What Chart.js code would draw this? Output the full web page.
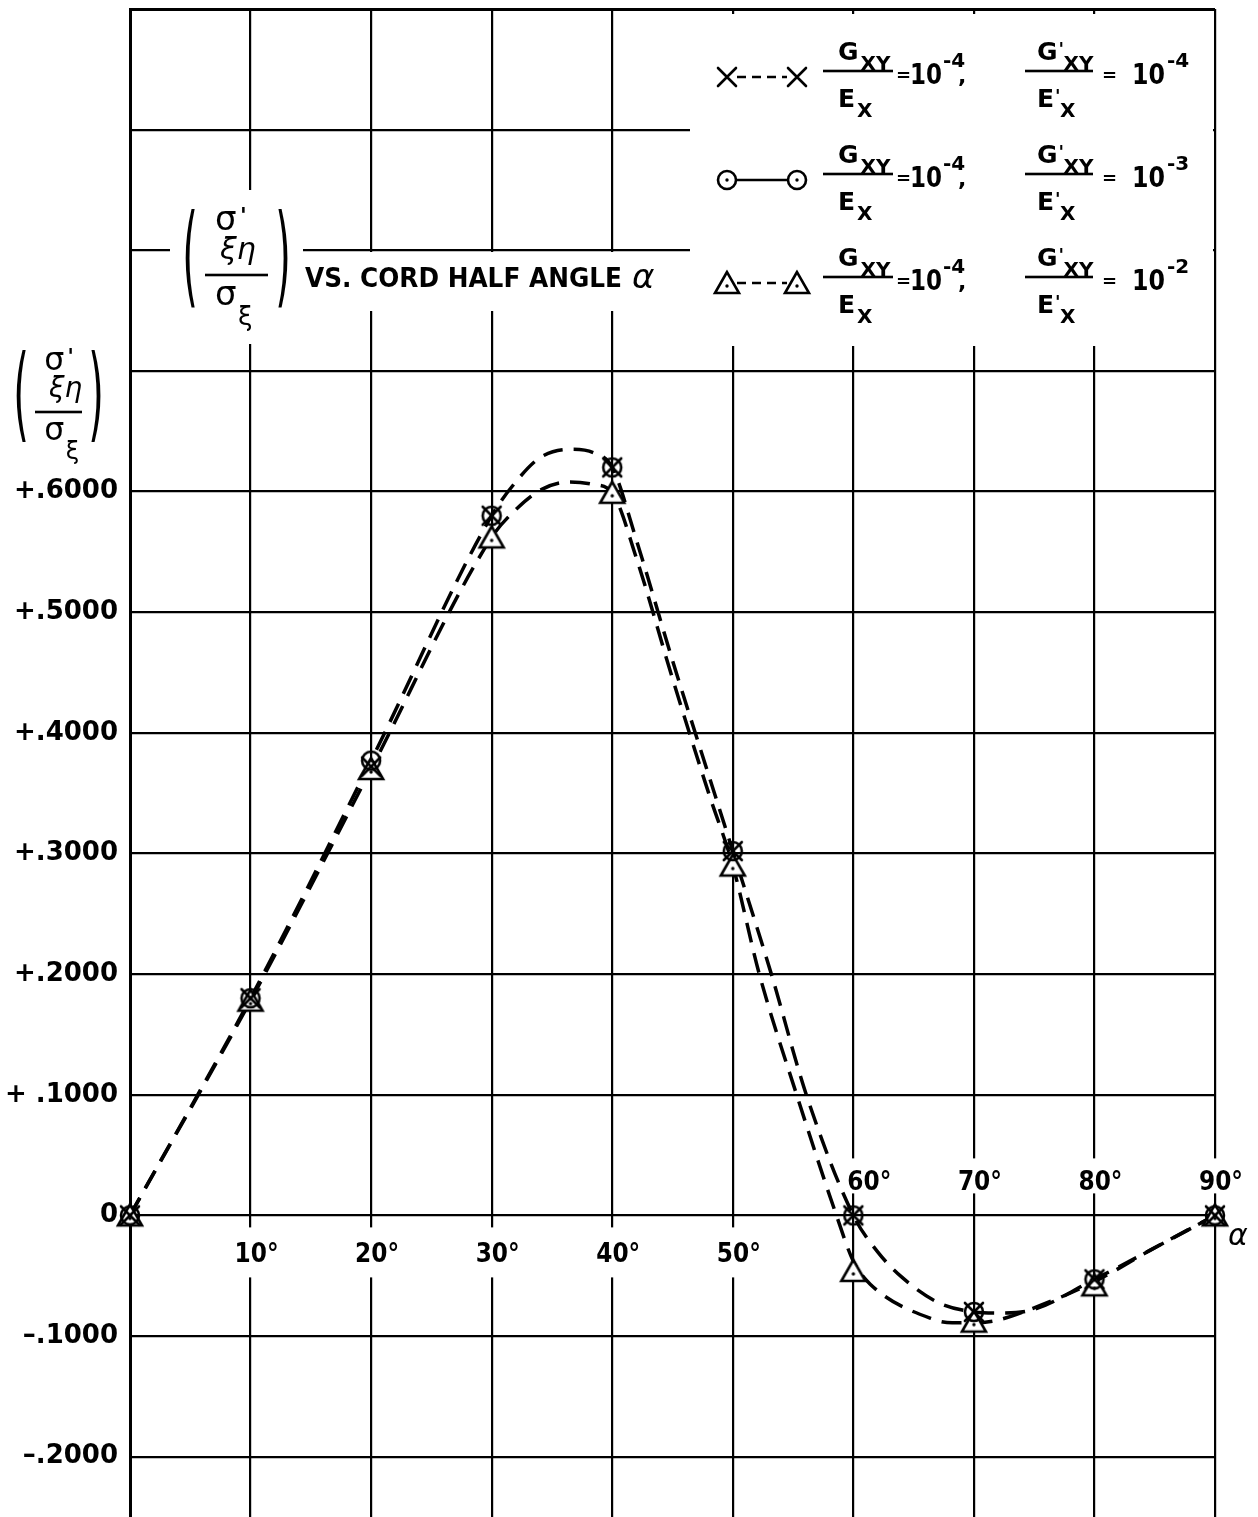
<!DOCTYPE html>
<html>
<head>
<meta charset="utf-8">
<script src="https://cdn.jsdelivr.net/npm/chart.js@4.4.1/dist/chart.umd.min.js"></script>
<style>
  html, body { margin: 0; padding: 0; background: #fff; }
  canvas { display: block; }
</style>
</head>
<body>
<canvas id="stressChart" width="1258" height="1517"></canvas>
<script>
// cord half angle (degrees) where the ratio was computed
const angles = [0, 10, 20, 30, 40, 50, 60, 70, 80, 90];
// Gxy/Ex = 1e-4 for all three; G'xy/E'x = 1e-4, 1e-3, 1e-2
const crossVals = [0, 0.180, 0.372, 0.580, 0.620, 0.302, 0, -0.080, -0.053, 0];
const circleVals = [0, 0.180, 0.377, 0.580, 0.620, 0.302, 0, -0.080, -0.053, 0];
const triangleVals = [0, 0.178, 0.370, 0.562, 0.599, 0.290, -0.046, -0.088, -0.058, 0];

// faired curves as drawn through the points
const upperCurveAngles = [0, 10, 20, 30, 32, 34, 36.5, 38.5, 40, 42, 45, 48, 50, 53.2, 56.1, 60, 62, 64, 67, 70, 72.1, 74.6, 80, 84.6, 90];
const upperCurveVals = [0, 0.180, 0.377, 0.580, 0.608, 0.628, 0.635, 0.632, 0.620, 0.560, 0.460, 0.365, 0.302, 0.200, 0.100, 0, -0.030, -0.051, -0.072, -0.080, -0.081, -0.079, -0.053, -0.029, 0];
const lowerCurveAngles = [0, 10, 20, 30, 32, 34.2, 36.5, 38.4, 40, 42, 45, 48, 50, 52.2, 55.3, 58.6, 60, 61.4, 66.6, 68.2, 70, 71.9, 74.9, 80, 84.6, 90];
const lowerCurveVals = [0, 0.178, 0.370, 0.562, 0.585, 0.602, 0.608, 0.606, 0.599, 0.545, 0.445, 0.350, 0.290, 0.200, 0.100, 0, -0.038, -0.057, -0.086, -0.089, -0.089, -0.087, -0.077, -0.055, -0.029, 0];

const xTicks = [0, 10, 20, 30, 40, 50, 60, 70, 80, 90];
const xLabels = ["", "10°", "20°", "30°", "40°", "50°", "60°", "70°", "80°", "90°"];
const yTicks = [-0.2, -0.1, 0, 0.1, 0.2, 0.3, 0.4, 0.5, 0.6, 0.7, 0.8, 0.9, 1.0];
const yLabels = ["–.2000", "–.1000", "0", "+ .1000", "+.2000", "+.3000", "+.4000", "+.5000", "+.6000", "", "", "", ""];

const legendExponents = ["-4", "-3", "-2"];

const FONT = "'DejaVu Sans'";

function setFont(ctx, size, weight, style) {
    ctx.font = `${style || "normal"} ${weight || "bold"} ${size}px ${FONT}`;
}

function write(ctx, s, x, y, size, weight, style, maxW) {
    setFont(ctx, size, weight, style);
    if (maxW) ctx.fillText(s, x, y, maxW);
    else ctx.fillText(s, x, y);
    const w = ctx.measureText(s).width;
    return maxW ? Math.min(w, maxW) : w;
}

// point symbols
function makeCross() {
    const c = document.createElement("canvas");
    c.width = 26; c.height = 26;
    const g = c.getContext("2d");
    g.strokeStyle = "#000"; g.lineWidth = 2.6; g.lineCap = "round";
    g.beginPath();
    g.moveTo(4, 4); g.lineTo(22, 22);
    g.moveTo(22, 4); g.lineTo(4, 22);
    g.stroke();
    return c;
}

function makeCircle() {
    const c = document.createElement("canvas");
    c.width = 26; c.height = 26;
    const g = c.getContext("2d");
    g.strokeStyle = "#000"; g.fillStyle = "#000"; g.lineWidth = 2.6;
    g.beginPath(); g.arc(13, 13, 9, 0, Math.PI * 2); g.stroke();
    g.beginPath(); g.arc(13, 13, 1.7, 0, Math.PI * 2); g.fill();
    return c;
}

function makeTriangle() {
    const c = document.createElement("canvas");
    c.width = 30; c.height = 28;
    const g = c.getContext("2d");
    g.strokeStyle = "#000"; g.fillStyle = "#fff"; g.lineWidth = 2.6; g.lineJoin = "miter";
    g.beginPath(); g.moveTo(15, 3); g.lineTo(3, 24); g.lineTo(27, 24); g.closePath();
    g.fill(); g.stroke();
    g.fillStyle = "#000";
    g.beginPath(); g.arc(15, 17, 1.7, 0, Math.PI * 2); g.fill();
    return c;
}

const crossMark = makeCross();
const circleMark = makeCircle();
const triangleMark = makeTriangle();

const toXY = (xs, ys) => xs.map((x, i) => ({ x: x, y: ys[i] }));

function paren(ctx, ch, x, top, bottom) {
    const S = 40;
    ctx.save();
    setFont(ctx, S, "normal");
    ctx.textAlign = "center";
    ctx.textBaseline = "middle";
    ctx.translate(x, (top + bottom) / 2);
    ctx.scale(1, (bottom - top) / (S * 0.95));
    ctx.fillText(ch, 0, 0);
    ctx.restore();
}

// (σ'ξη / σξ) in brackets, bar starting at x, y
function drawRatio(ctx, x, y, w, k) {
    ctx.fillRect(x, y - 1.3, w, 2.6);
    write(ctx, "σ", x + 10 * k, y - 45 * k, 34 * k, "normal");
    write(ctx, "'", x + 35 * k, y - 52 * k, 22 * k, "bold");
    write(ctx, "ξη", x + 15 * k, y - 16 * k, 30 * k, "normal", "italic");
    write(ctx, "σ", x + 10 * k, y + 30 * k, 34 * k, "normal");
    write(ctx, "ξ", x + 33 * k, y + 50 * k, 26 * k, "normal");
    paren(ctx, "(", x - 15 * k, y - 63 * k, y + 42 * k);
    paren(ctx, ")", x + w + 15 * k, y - 63 * k, y + 42 * k);
}

// G_XY / E_X  (primed or not)
function drawModulusRatio(ctx, x0, x1, y, primed) {
    ctx.fillRect(x0, y - 1.3, x1 - x0, 2.6);
    let gx = x0 + (primed ? 12 : 15);
    let w = write(ctx, "G", gx, y - 11, 25);
    let sx = gx + w + 2;
    if (primed) {
        write(ctx, "'", gx + w + 1, y - 16, 18);
        sx += 4;
    }
    write(ctx, "XY", sx, y - 1, 20);
    let ex = x0 + (primed ? 12 : 15);
    w = write(ctx, "E", ex, y + 36, 25);
    let dx = ex + w + 2;
    if (primed) {
        write(ctx, "'", ex + w + 1, y + 31, 18);
        dx += 4;
    }
    write(ctx, "X", dx, y + 46, 20);
}

function drawLegendRow(ctx, y, mark, dashed, exp2, punct) {
    const xa = 727, xb = 797, ys = y + 6;
    ctx.save();
    ctx.strokeStyle = "#000";
    ctx.lineWidth = 2.6;
    ctx.setLineDash(dashed ? [9, 6] : []);
    ctx.beginPath();
    ctx.moveTo(xa + 10, ys);
    ctx.lineTo(xb - 10, ys);
    ctx.stroke();
    ctx.restore();
    ctx.drawImage(mark, xa - mark.width / 2, ys - mark.height / 2);
    ctx.drawImage(mark, xb - mark.width / 2, ys - mark.height / 2);

    drawModulusRatio(ctx, 823, 893, y, false);
    write(ctx, "=", 896, y + 10, 18);
    let w = write(ctx, "10", 910, y + 13, 29, "bold", "normal", 32);
    write(ctx, "-4", 910 + w + 1, y - 4, 20);
    write(ctx, punct, 958, y + 12, 22);

    drawModulusRatio(ctx, 1025, 1093, y, true);
    write(ctx, "=", 1102, y + 10, 18);
    w = write(ctx, "10", 1132, y + 13, 29, "bold", "normal", 33);
    write(ctx, exp2, 1132 + w + 2, y - 4, 20);
}

const decor = {
    id: "decor",
    beforeDatasetsDraw(chart) {
        const ctx = chart.ctx;
        const xs = chart.scales.x;
        const ys = chart.scales.y;
        ctx.save();
        ctx.fillStyle = "#fff";
        // clear space for the legend and the title
        ctx.fillRect(690, 14, 523, 332);
        ctx.fillRect(170, 190, 133, 154);
        ctx.fillRect(303, 252, 383, 59);

        ctx.fillStyle = "#000";
        ctx.textAlign = "left";
        ctx.textBaseline = "alphabetic";

        // title
        drawRatio(ctx, 205, 275, 63, 1);
        write(ctx, "VS. CORD HALF ANGLE", 305, 287, 26, "bold", "normal", 317);
        write(ctx, "α", 632, 288, 34, "normal", "italic");

        // y axis quantity
        drawRatio(ctx, 35, 412, 47, 0.93);

        // legend
        const marks = [crossMark, circleMark, triangleMark];
        const rowY = [71, 174, 277];
        rowY.forEach((y, i) => {
            drawLegendRow(ctx, y, marks[i], i !== 1, legendExponents[i], ",");
        });

        // angle labels along the zero line
        const zeroY = ys.getPixelForValue(0);
        xTicks.forEach((a, i) => {
            const label = xLabels[i];
            if (!label) return;
            const px = xs.getPixelForValue(a);
            const above = a >= 60;
            const base = above ? zeroY - 25 : zeroY + 47;
            const cx = px + (a === 60 ? 16 : 6);
            setFont(ctx, 26);
            const w = Math.min(ctx.measureText(label).width, 44);
            ctx.fillStyle = "#fff";
            if (above) ctx.fillRect(cx - w / 2 - 3, base - 32, w + 6, 35);
            else ctx.fillRect(cx - w / 2 - 3, base - 35, w + 6, 50);
            ctx.fillStyle = "#000";
            ctx.textAlign = "center";
            ctx.fillText(label, cx, base, 44);
        });
        ctx.textAlign = "left";
        write(ctx, "α", xs.getPixelForValue(90) + 13, zeroY + 30, 30, "normal", "italic");
        ctx.restore();
    }
};

const ctx = document.getElementById("stressChart");

const stressChart = new Chart(ctx, {
    type: "scatter",
    data: {
        datasets: [
            {
                label: "curve 1",
                data: toXY(upperCurveAngles, upperCurveVals),
                showLine: true,
                pointRadius: 0,
                borderColor: "#000",
                borderWidth: 3.5,
                borderDash: [20, 11],
                cubicInterpolationMode: "monotone",
                clip: false,
                order: 10
            },
            {
                label: "curve 2",
                data: toXY(lowerCurveAngles, lowerCurveVals),
                showLine: true,
                pointRadius: 0,
                borderColor: "#000",
                borderWidth: 3.5,
                borderDash: [20, 11],
                cubicInterpolationMode: "monotone",
                clip: false,
                order: 9
            },
            {
                label: "G'xy/E'x = 10^-2",
                data: toXY(angles, triangleVals),
                showLine: false,
                pointStyle: triangleMark,
                pointRadius: 10,
                clip: false,
                order: 3
            },
            {
                label: "G'xy/E'x = 10^-4",
                data: toXY(angles, crossVals),
                showLine: false,
                pointStyle: crossMark,
                pointRadius: 10,
                clip: false,
                order: 2
            },
            {
                label: "G'xy/E'x = 10^-3",
                data: toXY(angles, circleVals),
                showLine: false,
                pointStyle: circleMark,
                pointRadius: 10,
                clip: false,
                order: 1
            }
        ]
    },
    options: {
        responsive: false,
        devicePixelRatio: 1,
        animation: false,
        layout: { autoPadding: false, padding: { top: 9, right: 43, bottom: 0, left: 0 } },
        plugins: {
            legend: { display: false },
            tooltip: { enabled: false }
        },
        scales: {
            x: {
                type: "linear",
                min: 0,
                max: 90,
                afterBuildTicks: scale => { scale.ticks = xTicks.map(v => ({ value: v })); },
                afterFit: scale => {
                    scale.height = 0;
                    scale.paddingLeft = 0;
                    scale.paddingRight = 0;
                },
                ticks: { display: false },
                border: { display: false },
                grid: {
                    color: "#000",
                    lineWidth: c => (c.tick && c.tick.value === 0 ? 3 : 2.2),
                    drawTicks: false
                }
            },
            y: {
                type: "linear",
                min: -0.25,
                max: 1.0,
                afterBuildTicks: scale => { scale.ticks = yTicks.map(v => ({ value: v })); },
                afterFit: scale => {
                    scale.width = 130;
                    scale.paddingTop = 0;
                    scale.paddingBottom = 0;
                },
                ticks: {
                    padding: 12,
                    color: "#000",
                    font: { family: "DejaVu Sans", size: 26, weight: "bold" },
                    callback: (value, index) => yLabels[index]
                },
                border: { display: true, color: "#000", width: 3 },
                grid: {
                    color: "#000",
                    lineWidth: c => (c.tick && c.tick.value === 1 ? 3 : 2.2),
                    drawTicks: false
                }
            }
        }
    },
    plugins: [decor]
});
</script>
</body>
</html>
